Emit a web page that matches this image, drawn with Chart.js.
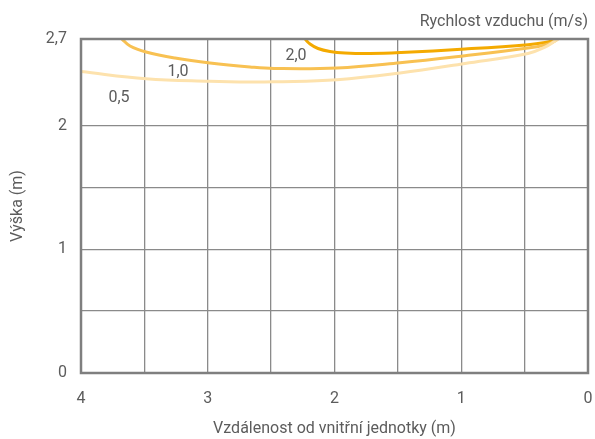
<!DOCTYPE html>
<html><head><meta charset="utf-8">
<script src="https://cdn.jsdelivr.net/npm/chart.js@4"></script>
<style>html,body{margin:0;padding:0;background:#fff}#wrap{width:595px;height:439px}</style>
</head><body><div id="wrap"><canvas id="c" width="595" height="439"></canvas></div>
<script>
const FONT = "Roboto, sans-serif";
// Velocity contours: distance from indoor unit (m) and height (m)
const v05x = [4.0, 3.487, 2.982, 2.667, 2.477, 1.980, 1.483, 0.970, 0.473, 0.339, 0.260, 0.237];
const v05y = [2.437, 2.379, 2.358, 2.352, 2.354, 2.371, 2.425, 2.502, 2.583, 2.635, 2.684, 2.700];
const v10x = [3.677, 3.613, 3.487, 3.258, 2.982, 2.667, 2.477, 1.980, 1.483, 0.970, 0.473, 0.339, 0.276, 0.237];
const v10y = [2.700, 2.643, 2.595, 2.546, 2.506, 2.474, 2.462, 2.466, 2.508, 2.565, 2.627, 2.652, 2.676, 2.700];
const v20x = [2.233, 2.193, 2.130, 2.036, 1.917, 1.720, 1.475, 0.970, 0.473, 0.339, 0.260, 0.245];
const v20y = [2.700, 2.660, 2.623, 2.599, 2.587, 2.583, 2.591, 2.619, 2.654, 2.672, 2.692, 2.700];
const seriesLabels = ['0,5', '1,0', '2,0'];
const labelX = [3.70, 3.235, 2.304];
const labelY = [2.223, 2.433, 2.560];
const xTicks = [0, 0.5, 1, 1.5, 2, 2.5, 3, 3.5, 4];
const yTicks = [0, 0.5, 1, 1.5, 2, 2.7];
const yTickLabels = {0: '0', 1: '1', 2: '2', 2.7: '2,7'};
const colors = ['#fde2ad', '#f8c152', '#f4aa00'];

const pts = (xs, ys) => xs.map((x, i) => ({x, y: ys[i]}));

const extra = {
  id: 'extra',
  afterDraw(chart) {
    const {ctx, chartArea: a, scales: {x, y}} = chart;
    ctx.save();
    ctx.strokeStyle = '#7f7f7f';
    ctx.lineWidth = 2.5;
    ctx.strokeRect(a.left, a.top, a.right - a.left, a.bottom - a.top);
    ctx.fillStyle = '#5c5c5c';
    ctx.font = '16px ' + FONT;
    ctx.textAlign = 'center';
    ctx.textBaseline = 'middle';
    seriesLabels.forEach((t, i) => ctx.fillText(t, x.getPixelForValue(labelX[i]), y.getPixelForValue(labelY[i])));
    ctx.textAlign = 'right';
    ctx.fillText('Rychlost vzduchu (m/s)', a.right, 22);
    ctx.restore();
  }
};

new Chart(document.getElementById('c'), {
  type: 'line',
  data: {
    datasets: [
      {data: pts(v05x, v05y), borderColor: colors[0]},
      {data: pts(v10x, v10y), borderColor: colors[1]},
      {data: pts(v20x, v20y), borderColor: colors[2]}
    ].map(d => Object.assign(d, {borderWidth: 3, pointRadius: 0, fill: false, tension: 0.4}))
  },
  options: {
    responsive: false,
    animation: false,
    layout: {padding: {top: 39, right: 7, left: 0, bottom: 0}},
    plugins: {legend: {display: false}, tooltip: {enabled: false}},
    scales: {
      x: {
        type: 'linear', reverse: true, min: 0, max: 4,
        afterBuildTicks: s => { s.ticks = xTicks.map(v => ({value: v})); },
        afterFit: s => { s.height = 66; },
        grid: {color: '#8a8a8a', lineWidth: 1.3, drawTicks: false},
        border: {display: false},
        ticks: {
          padding: 16, color: '#5c5c5c', font: {family: FONT, size: 16}, maxRotation: 0,
          callback: v => Number.isInteger(v) ? String(v) : ''
        },
        title: {display: true, text: 'Vzdálenost od vnitřní jednotky (m)', color: '#5c5c5c', font: {family: FONT, size: 16}, padding: {top: 10, bottom: 0}}
      },
      y: {
        type: 'linear', min: 0, max: 2.7,
        afterBuildTicks: s => { s.ticks = yTicks.map(v => ({value: v})); },
        afterFit: s => { s.width = 81; },
        grid: {color: '#8a8a8a', lineWidth: 1.3, drawTicks: false},
        border: {display: false},
        ticks: {
          padding: 14, color: '#5c5c5c', font: {family: FONT, size: 16},
          callback: v => yTickLabels[v] !== undefined ? yTickLabels[v] : ''
        },
        title: {display: true, text: 'Výška (m)', color: '#5c5c5c', font: {family: FONT, size: 16}, padding: {top: 8, bottom: 4}}
      }
    }
  },
  plugins: [extra]
});
</script></body></html>
